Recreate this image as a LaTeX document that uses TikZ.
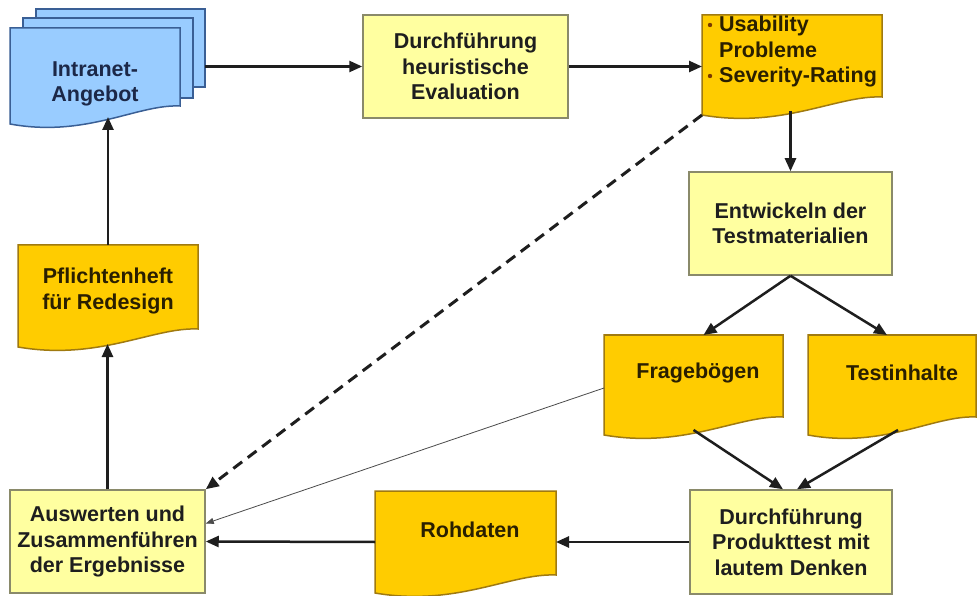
\documentclass[tikz,border=0pt]{standalone}
\usepackage{fontspec}
\setmainfont{Liberation Sans}
\usetikzlibrary{arrows.meta,calc}
\definecolor{lyel}{HTML}{FFFFA0}
\definecolor{lyelb}{HTML}{8A8A6A}
\definecolor{gold}{HTML}{FFCC00}
\definecolor{goldb}{HTML}{A07A10}
\definecolor{lblue}{HTML}{99CCFF}
\definecolor{lblueb}{HTML}{3A5F95}
\definecolor{ink}{HTML}{1E1E1E}
\definecolor{goldink}{HTML}{2A1F00}
\definecolor{blueink}{HTML}{1C2848}
\definecolor{bul}{HTML}{7A3A00}
% document shape: style, x0, ytop, x1, y of left bottom
\newcommand\docpath[5]{\path[#1] (#2,#3) -- (#4,#3) -- (#4,{#5-18}) .. controls ({#2+0.75*(#4-#2)},{#5-20}) and ({#2+0.45*(#4-#2)},{#5+14}) .. (#2,#5) -- cycle;}
\begin{document}
\begin{tikzpicture}[x=1pt,y=-1pt,
  lbl/.style={font=\fontsize{21.5}{25.5}\selectfont\bfseries, align=center, inner sep=0pt},
  ybox/.style={lbl, draw=lyelb, fill=lyel, line width=1.5pt, text=ink},
  gdoc/.style={fill=gold, draw=goldb, line width=1.5pt},
  bdoc/.style={fill=lblue, draw=lblueb, line width=1.5pt},
  anc/.style={inner sep=0pt, outer sep=0pt},
  flow/.style={draw=ink, line width=2.5pt, -{Triangle[length=13pt,width=11pt]}},
  dflow/.style={flow, line width=3pt, dash pattern=on 11pt off 7pt},
  tflow/.style={draw=ink!80, line width=0.8pt, -{Triangle[length=8pt,width=6pt]}}
]
\useasboundingbox (0,0) rectangle (978,596);
\fill[white] (0,0) rectangle (978,596);

% Intranet stack
\node[bdoc, anc, minimum width=169pt, minimum height=78pt] (intraB) at (120.5,48) {};
\node[bdoc, anc, minimum width=170pt, minimum height=80pt] (intraM) at (108,58) {};
\docpath{bdoc}{10}{28}{180}{124}
\node[anc, minimum width=170pt, minimum height=96pt] (intra) at (95,76) {};
\node[lbl, text=blueink] (intraT) at (95,84) {Intranet-\\Angebot};

% boxes
\node[ybox, minimum width=205pt, minimum height=103pt] (heur) at (465.5,66.5) {Durchführung\\heuristische\\Evaluation};
\node[ybox, minimum width=203pt, minimum height=103pt] (entw) at (790.5,223.5) {Entwickeln der\\Testmaterialien};
\node[ybox, minimum width=202pt, minimum height=104pt] (prod) at (791,542) {Durchführung\\Produkttest mit\\lautem Denken};
\node[ybox, minimum width=195pt, minimum height=103pt] (ausw) at (107.5,541.5) {Auswerten und\\Zusammenführen\\der Ergebnisse};

% gold documents
\docpath{gdoc}{702}{15}{882}{115}
\node[anc, minimum width=180pt, minimum height=100pt] (usab) at (792,65) {};
\docpath{gdoc}{604}{335}{783}{435}
\node[anc, minimum width=179pt, minimum height=100pt] (frag) at (693.5,385) {};
\docpath{gdoc}{808}{335}{976}{435}
\node[anc, minimum width=168pt, minimum height=100pt] (test) at (892,385) {};
\docpath{gdoc}{375}{491}{556}{593}
\node[anc, minimum width=181pt, minimum height=102pt] (rohd) at (465.5,542) {};
\docpath{gdoc}{18}{245}{198}{347}
\node[anc, minimum width=180pt, minimum height=102pt] (pfl) at (108,296) {};

% connectors
\draw[flow] (intraB.east |- heur.west) -- (heur.west);
\draw[flow] (heur.east) -- (usab.west |- heur.east);
\draw[flow] ($(entw.north |- usab.south)+(0,-4)$) -- (entw.north);
\draw[flow] (entw.south) -- ([xshift=10pt]frag.north);
\draw[flow] (entw.south) -- ([xshift=-5pt]test.north);
\draw[flow] ([yshift=5pt]frag.south) -- ([xshift=-8pt]prod.north);
\draw[flow] ([xshift=6pt,yshift=5pt]test.south) -- ([xshift=6pt]prod.north);
\draw[flow] (prod.west) -- (rohd.east);
\draw[flow] (rohd.west) -- (ausw.east);
\draw[tflow] ([yshift=-3pt]frag.west) -- ([yshift=18pt]ausw.east);
\draw[dflow] (usab.south west) -- (ausw.north east);
\draw[flow] (ausw.north) -- ($(ausw.north |- pfl.south)+(0,-3)$);
\draw[flow] (pfl.north) -- ($(pfl.north |- intra.south)+(0,-7)$);

% document texts
\node[lbl, text=goldink] (fragT) at (698,373) {Fragebögen};
\node[lbl, text=goldink] (testT) at (902,373) {Testinhalte};
\node[lbl, text=goldink] (rohdT) at (470,530) {Rohdaten};
\node[lbl, text=goldink] (pflT) at (108,291) {Pflichtenheft\\für Redesign};
\node[lbl, text=goldink, anchor=base west] (usab1) at (719,32) {Usability};
\node[lbl, text=goldink, anchor=base west] (usab2) at (719,58) {Probleme};
\node[lbl, text=goldink, anchor=base west] (usab3) at (719,83) {Severity-Rating};
\fill[bul] (710,25) circle (2.2pt);
\fill[bul] (710,76) circle (2.2pt);
\end{tikzpicture}
\end{document}
